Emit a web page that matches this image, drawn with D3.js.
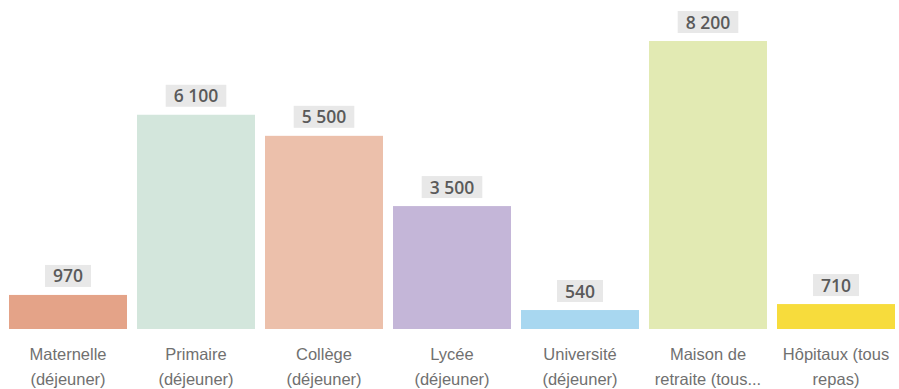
<!DOCTYPE html>
<html><head><meta charset="utf-8">
<script src="https://cdn.jsdelivr.net/npm/d3@7"></script>
<style>body{margin:0;background:#fff}svg{display:block;font-family:"Open Sans","Noto Sans",sans-serif}</style>
</head><body><svg id="c" width="899" height="389"></svg>
<script>
const categories = ["Maternelle (déjeuner)","Primaire (déjeuner)","Collège (déjeuner)","Lycée (déjeuner)","Université (déjeuner)","Maison de retraite (tous repas)","Hôpitaux (tous repas)"];
const tickLines = [["Maternelle","(déjeuner)"],["Primaire","(déjeuner)"],["Collège","(déjeuner)"],["Lycée","(déjeuner)"],["Université","(déjeuner)"],["Maison de","retraite (tous..."],["Hôpitaux (tous","repas)"]];
const values = [970,6100,5500,3500,540,8200,710];
const valueLabels = ["970","6 100","5 500","3 500","540","8 200","710"];
const colors = ["#e4a388","#d3e6dc","#ecc0ab","#c4b6d8","#a8d7f0","#e2eab3","#f7dc3c"];

const svg = d3.select("#c");
const x = d3.scaleBand().domain(categories).range([4,900]).paddingInner(10/128).paddingOuter(5/128);
const y = d3.scaleLinear().domain([0,8200]).range([329,41]);

const g = svg.append("g");
g.selectAll("rect.bar").data(values).join("rect").attr("class","bar")
  .attr("x",(d,i)=>x(categories[i])).attr("width",x.bandwidth())
  .attr("y",d=>y(d)).attr("height",d=>y(0)-y(d)).attr("fill",(d,i)=>colors[i]);

const lab = g.selectAll("g.lab").data(values).join("g").attr("class","lab")
  .attr("transform",(d,i)=>`translate(${x(categories[i])+x.bandwidth()/2},${y(d)-8})`);
lab.each(function(d,i){
  const s=d3.select(this);
  const t=s.append("text").attr("text-anchor","middle").attr("y",-4.5).attr("font-size",17.5).attr("font-weight",600).attr("fill","#5a5a5a").text(valueLabels[i]);
  const w=t.node().getComputedTextLength();
  s.insert("rect","text").attr("x",-w/2-8).attr("width",w+16).attr("y",-22).attr("height",22).attr("fill","#e8e8e8");
});

const ax = svg.append("g").attr("transform","translate(0,329)")
  .call(d3.axisBottom(x).tickSize(0).tickFormat(""));
ax.select(".domain").remove();
ax.selectAll(".tick").each(function(d,i){
  const t=d3.select(this).append("text").attr("text-anchor","middle").attr("fill","#707070").attr("font-size",16.5);
  tickLines[i].forEach((ln,k)=>t.append("tspan").attr("x",0).attr("y",31+k*25).text(ln));
});
</script></body></html>
